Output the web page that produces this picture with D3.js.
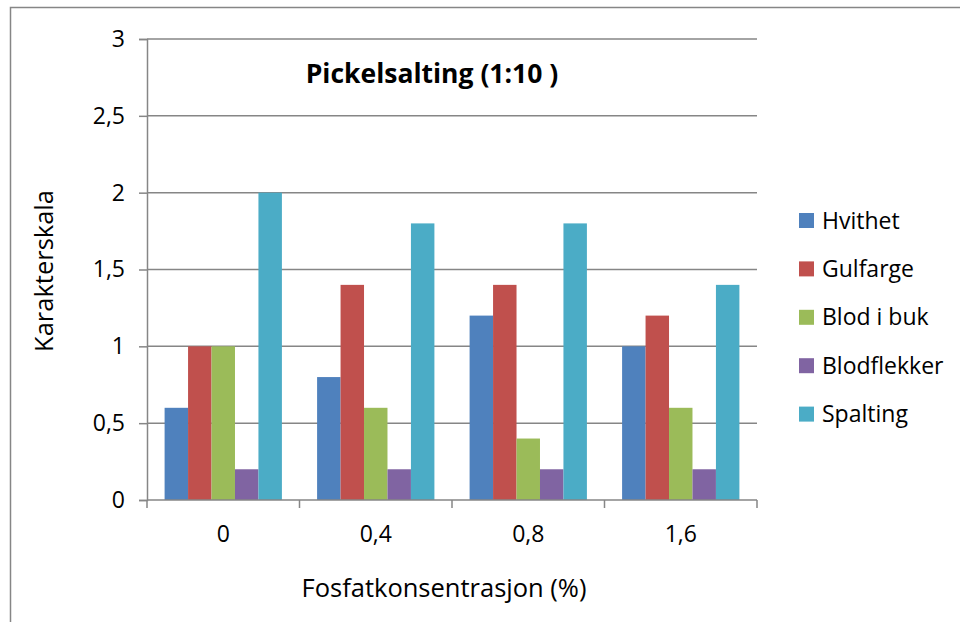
<!DOCTYPE html>
<html>
<head>
<meta charset="utf-8">
<script src="https://cdn.jsdelivr.net/npm/d3@7"></script>
<style>
  html, body { margin: 0; padding: 0; background: #fff; }
  svg { display: block; font-family: "Open Sans", sans-serif; }
</style>
</head>
<body>
<svg id="chart" width="960" height="622"></svg>
<script>
const categories = ["0", "0,4", "0,8", "1,6"];
const seriesNames = ["Hvithet", "Gulfarge", "Blod i buk", "Blodflekker", "Spalting"];
const hvithet     = [0.6, 0.8, 1.2, 1.0];
const gulfarge    = [1.0, 1.4, 1.4, 1.2];
const blodIBuk    = [1.0, 0.6, 0.4, 0.6];
const blodflekker = [0.2, 0.2, 0.2, 0.2];
const spalting    = [2.0, 1.8, 1.8, 1.4];
const yTickValues = [0, 0.5, 1, 1.5, 2, 2.5, 3];
const yTickLabels = ["0", "0,5", "1", "1,5", "2", "2,5", "3"];
const colors = ["#4F81BD", "#C0504D", "#9BBB59", "#8064A2", "#4BACC6"];
const titleText = "Pickelsalting (1:10 )";
const xTitle = "Fosfatkonsentrasjon (%)";
const yTitle = "Karakterskala";

const seriesValues = [hvithet, gulfarge, blodIBuk, blodflekker, spalting];

const svg = d3.select("#chart");
const gridColor = "#868686";

// outer chart frame
svg.append("rect")
  .attr("x", 10.5).attr("y", 7.5)
  .attr("width", 1000).attr("height", 700)
  .attr("fill", "none").attr("stroke", gridColor).attr("stroke-width", 1.5);

const plot = { left: 147, right: 757, top: 39, bottom: 500 };

const y = d3.scaleLinear().domain([0, 3]).range([plot.bottom, plot.top]);
const x0 = d3.scaleBand().domain(categories).range([plot.left, plot.right]).padding(0);
const bw = x0.bandwidth();
const gapHalf = bw * 1.5 / 6.5 / 2;
const x1 = d3.scaleBand().domain(seriesNames).range([gapHalf, bw - gapHalf]).padding(0);

// gridlines
svg.append("g").selectAll("line").data(yTickValues.slice(1)).join("line")
  .attr("x1", plot.left).attr("x2", plot.right)
  .attr("y1", d => y(d)).attr("y2", d => y(d))
  .attr("stroke", gridColor).attr("stroke-width", 1.5);

// y axis
const yAxis = d3.axisLeft(y).tickValues(yTickValues)
  .tickFormat((d, i) => yTickLabels[i]).tickSize(8).tickPadding(14);
const gy = svg.append("g").attr("transform", `translate(${plot.left},0)`).call(yAxis);
gy.select(".domain").attr("stroke", gridColor).attr("stroke-width", 1.5);
gy.selectAll(".tick line").attr("stroke", gridColor).attr("stroke-width", 1.5);
gy.selectAll(".tick text").attr("font-family", "Open Sans, sans-serif")
  .attr("font-size", 23).attr("fill", "#000");

// bars
const groups = svg.append("g").selectAll("g").data(categories).join("g")
  .attr("transform", d => `translate(${x0(d)},0)`);
groups.selectAll("rect")
  .data((c, ci) => seriesNames.map((s, si) => ({ s, si, v: seriesValues[si][ci] })))
  .join("rect")
  .attr("x", d => x1(d.s))
  .attr("width", x1.bandwidth())
  .attr("y", d => y(d.v))
  .attr("height", d => y(0) - y(d.v))
  .attr("fill", d => colors[d.si]);

// x axis
const xAxis = d3.axisBottom(x0).tickSize(0).tickPadding(26);
const gx = svg.append("g").attr("transform", `translate(0,${plot.bottom})`).call(xAxis);
gx.select(".domain").remove();
gx.append("line").attr("x1", plot.left).attr("x2", plot.right)
  .attr("stroke", gridColor).attr("stroke-width", 1.5);
const boundaries = categories.map(c => x0(c)).concat([x0(categories[categories.length - 1]) + bw]);
gx.selectAll(".bnd").data(boundaries).join("line").attr("class", "bnd")
  .attr("x1", d => d).attr("x2", d => d).attr("y1", 0).attr("y2", 8)
  .attr("stroke", gridColor).attr("stroke-width", 1.5);
gx.selectAll(".tick text").attr("font-family", "Open Sans, sans-serif")
  .attr("font-size", 23).attr("fill", "#000");

// title
svg.append("text").attr("x", 432).attr("y", 83)
  .attr("text-anchor", "middle").attr("font-size", 26.5).attr("font-weight", "bold")
  .text(titleText);

// axis titles
svg.append("text").attr("x", 444).attr("y", 597)
  .attr("text-anchor", "middle").attr("font-size", 25.5).text(xTitle);
svg.append("text").attr("transform", "translate(53,271) rotate(-90)")
  .attr("text-anchor", "middle").attr("font-size", 25.5).text(yTitle);

// legend
const legend = svg.append("g").selectAll("g").data(seriesNames).join("g")
  .attr("transform", (d, i) => `translate(799,${220.5 + i * 48.4})`);
legend.append("rect").attr("x", 0).attr("y", -7.5).attr("width", 15).attr("height", 15)
  .attr("fill", (d, i) => colors[i]);
legend.append("text").attr("x", 23).attr("y", 8).attr("font-size", 23).text(d => d);
</script>
</body>
</html>
